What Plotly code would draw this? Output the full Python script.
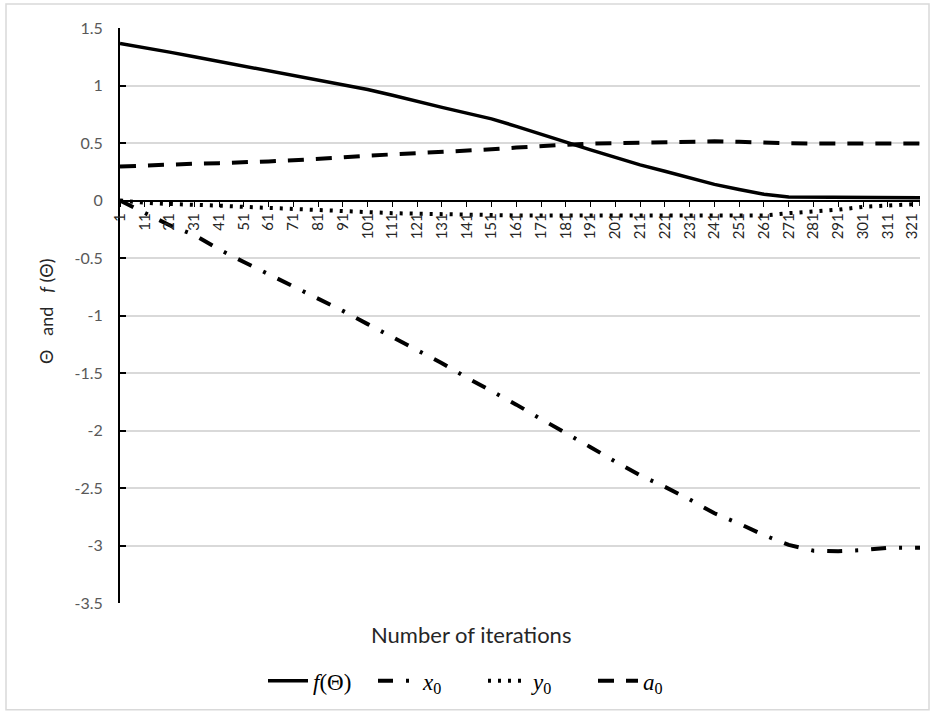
import plotly.graph_objects as go

# ---- data ----
iterations = [1, 11, 21, 31, 41, 51, 61, 71, 81, 91, 101, 111, 121, 131, 141, 151, 161,
              171, 181, 191, 201, 211, 221, 231, 241, 251, 261, 271, 281, 291, 301, 311, 321, 324]

f_theta = [1.365, 1.33, 1.29, 1.25, 1.21, 1.17, 1.13, 1.09, 1.05, 1.01, 0.965, 0.915, 0.86,
           0.81, 0.76, 0.71, 0.645, 0.575, 0.505, 0.44, 0.375, 0.31, 0.255, 0.2, 0.14,
           0.095, 0.055, 0.03, 0.03, 0.03, 0.03, 0.025, 0.025, 0.025]

x0 = [0.0, -0.11, -0.215, -0.30, -0.425, -0.535, -0.64, -0.745, -0.855, -0.96, -1.075,
      -1.19, -1.30, -1.415, -1.54, -1.655, -1.775, -1.90, -2.02, -2.145, -2.27, -2.39,
      -2.49, -2.60, -2.72, -2.81, -2.91, -2.995, -3.045, -3.05, -3.04, -3.02, -3.02, -3.02]

y0 = [0.0, -0.02, -0.03, -0.035, -0.045, -0.055, -0.065, -0.075, -0.085, -0.095, -0.10,
      -0.11, -0.115, -0.12, -0.125, -0.13, -0.13, -0.13, -0.13, -0.13, -0.13, -0.13,
      -0.13, -0.13, -0.13, -0.13, -0.13, -0.11, -0.095, -0.08, -0.055, -0.043, -0.032, -0.03]

a0 = [0.295, 0.305, 0.315, 0.32, 0.325, 0.33, 0.34, 0.35, 0.36, 0.375, 0.39, 0.40, 0.41,
      0.425, 0.435, 0.445, 0.46, 0.475, 0.485, 0.495, 0.50, 0.505, 0.51, 0.512, 0.515,
      0.51, 0.50, 0.497, 0.495, 0.495, 0.495, 0.495, 0.495, 0.495]

x_tick_vals = list(range(1, 322, 10))
x_tick_text = [str(v) for v in x_tick_vals]
y_tick_vals = [1.5, 1, 0.5, 0, -0.5, -1, -1.5, -2, -2.5, -3, -3.5]
y_tick_text = ["1.5", "1", "0.5", "0", "-0.5", "-1", "-1.5", "-2", "-2.5", "-3", "-3.5"]

names = ["<i>f</i>(Θ)", "<i>x</i><sub>0</sub>", "<i>y</i><sub>0</sub>", "<i>a</i><sub>0</sub>"]

# ---- figure ----
W, H = 939, 714
L, R, T, B = 120, 19, 28, 109
plot_h = H - T - B
plot_w = W - L - R

fig = go.Figure()
fig.add_trace(go.Scatter(x=iterations, y=f_theta, mode="lines", name=names[0],
                         line=dict(color="black", width=3.5)))
fig.add_trace(go.Scatter(x=iterations, y=x0, mode="lines", name=names[1],
                         line=dict(color="black", width=4, dash="15px,13px,3px,13px")))
fig.add_trace(go.Scatter(x=iterations, y=y0, mode="lines", name=names[2],
                         line=dict(color="black", width=4, dash="3px,7px")))
fig.add_trace(go.Scatter(x=iterations, y=a0, mode="lines", name=names[3],
                         line=dict(color="black", width=4, dash="16px,12px")))

ymin, ymax = -3.5, 1.5
zero_pos = (0 - ymin) / (ymax - ymin)

fig.update_layout(
    width=W, height=H,
    margin=dict(l=L, r=R, t=T, b=B),
    paper_bgcolor="white", plot_bgcolor="white",
    font=dict(family="Lato, Liberation Sans, sans-serif", color="#595959"),
    showlegend=True,
    legend=dict(orientation="h", xanchor="center", yanchor="middle",
                x=(483 - L) / plot_w, y=(T + plot_h - 683) / plot_h,
                font=dict(family="Liberation Serif, serif", size=23, color="black"),
                bgcolor="rgba(0,0,0,0)", itemwidth=40,
                entrywidth=55, entrywidthmode="pixels"),
    xaxis=dict(range=[1, 324], anchor="free", position=zero_pos,
               tickmode="array", tickvals=x_tick_vals, ticktext=x_tick_text,
               tickangle=-90, ticks="outside", ticklen=6, tickcolor="black",
               tickfont=dict(size=15, color="#262626"),
               showline=True, linecolor="black", linewidth=1.5,
               showgrid=False, zeroline=False),
    yaxis=dict(range=[ymin, ymax], tickmode="array", tickvals=y_tick_vals,
               ticktext=y_tick_text, ticks="inside", ticklen=6, tickcolor="black",
               tickwidth=1.5, ticklabelstandoff=12,
               tickfont=dict(size=16, color="#595959"),
               showline=True, linecolor="black", linewidth=2,
               showgrid=True, gridcolor="#d9d9d9", gridwidth=1.5,
               zeroline=False),
)

NB = "\u00a0"
fig.add_annotation(text="Θ" + NB * 3 + "and" + NB * 3 + "<i>f</i>" + NB + "(Θ)",
                   textangle=-90, showarrow=False,
                   xref="paper", yref="paper",
                   x=(46 - L) / plot_w, y=(T + plot_h - 312) / plot_h,
                   xanchor="center", yanchor="middle",
                   font=dict(family="Lato, Liberation Sans, sans-serif", size=18, color="#262626"))
fig.add_annotation(text="Number of iterations", showarrow=False,
                   xref="paper", yref="paper",
                   x=(471 - L) / plot_w, y=(T + plot_h - 637) / plot_h,
                   xanchor="center", yanchor="middle",
                   font=dict(family="Lato, Liberation Sans, sans-serif", size=22, color="#262626"))

fig.add_shape(type="rect", xref="paper", yref="paper",
              x0=(6 - L) / plot_w, x1=(929 - L) / plot_w,
              y0=(T + plot_h - 712) / plot_h, y1=(T + plot_h - 4) / plot_h,
              line=dict(color="#d9d9d9", width=1.5), fillcolor="rgba(0,0,0,0)", layer="below")

fig.write_html("out.html")
